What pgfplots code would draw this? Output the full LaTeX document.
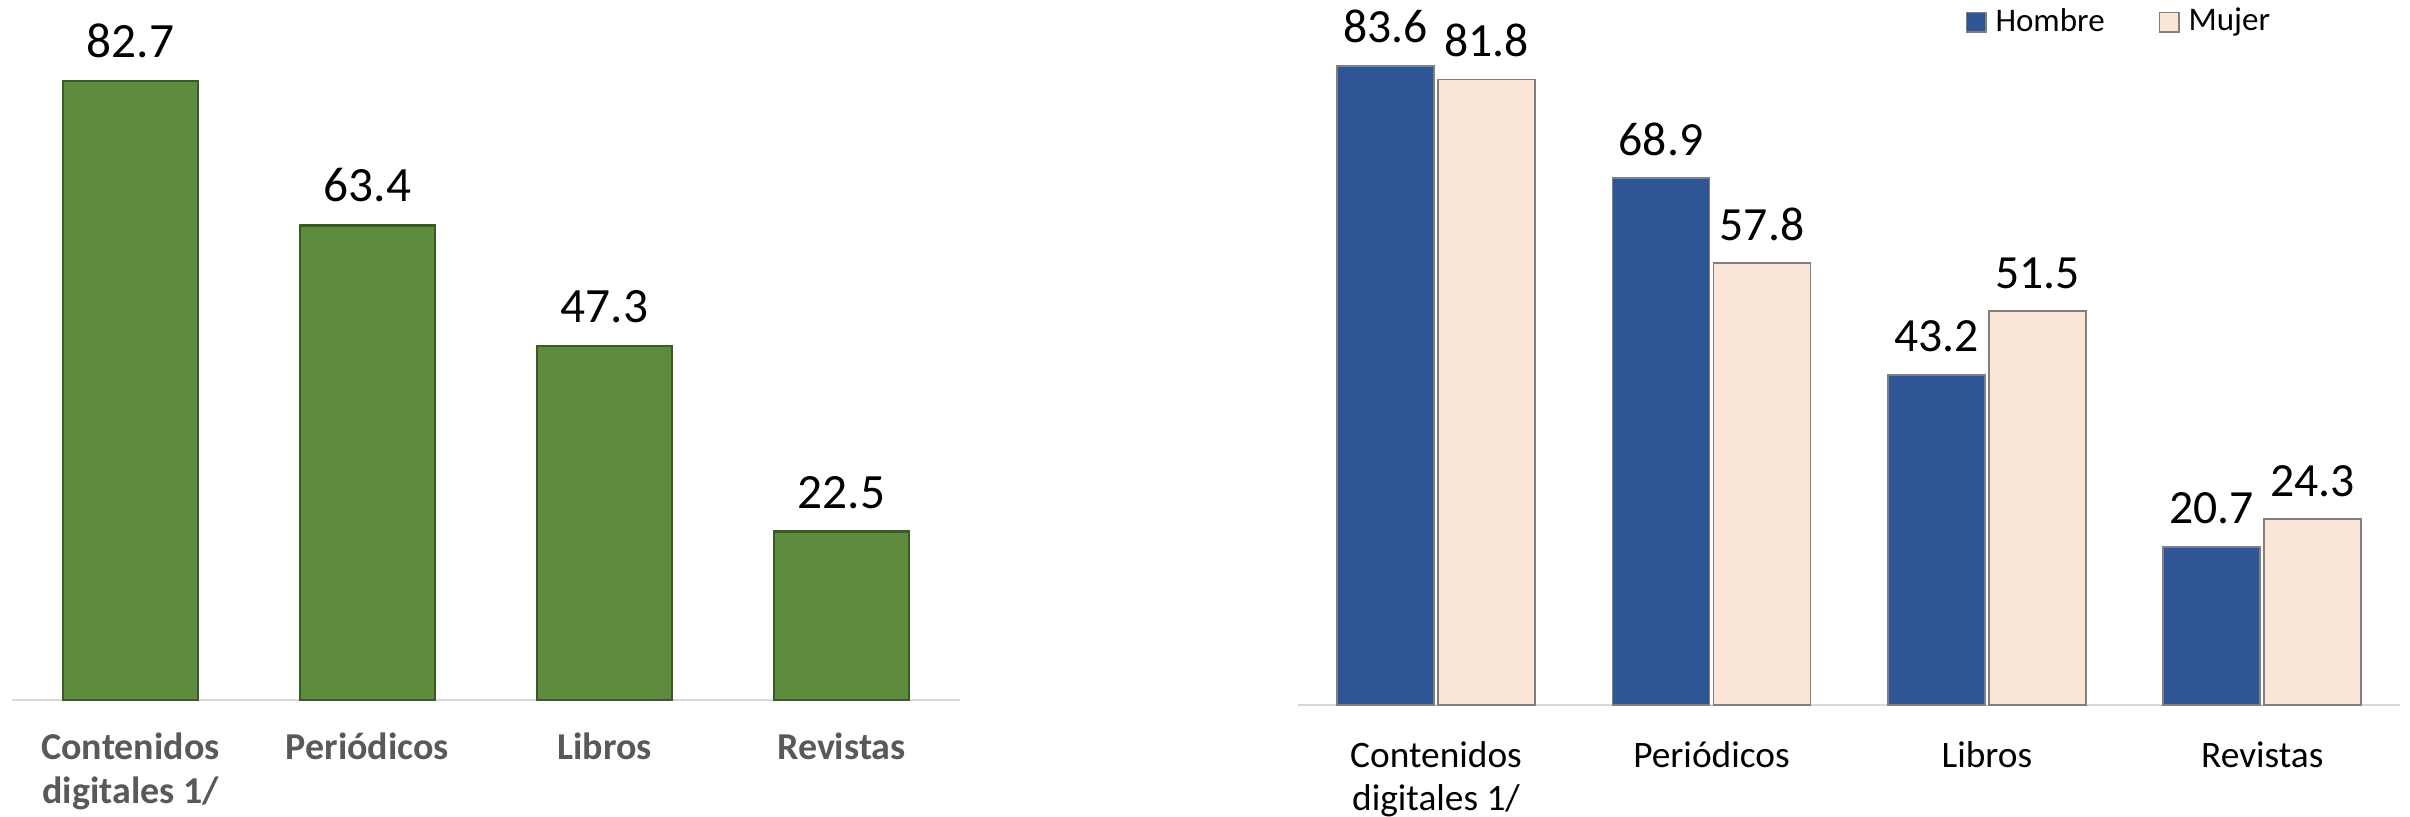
\documentclass[border=0pt]{standalone}
\usepackage{fontspec}
\setmainfont{Carlito}
\usepackage{pgfplots}
\pgfplotsset{compat=1.18}

\definecolor{barGreen}{HTML}{5E8B3D}
\definecolor{greenDark}{HTML}{3C5A26}
\definecolor{hombreBlue}{HTML}{2F5597}
\definecolor{mujerPink}{HTML}{FBE5D6}
\definecolor{barEdge}{HTML}{808080}
\definecolor{baseGray}{HTML}{D9D9D9}
\definecolor{labelGray}{HTML}{595959}

\pgfplotsset{
  twochart/.style={
    scale only axis,
    anchor=south west,
    xmin=-0.5, xmax=3.5, ymin=0,
    axis x line=bottom, axis y line=none,
    x axis line style={-, draw=baseGray, line width=0.6pt},
    xtick={0,1,2,3},
    major tick length=0pt,
    xticklabel style={align=center, anchor=north, inner sep=0pt},
    /pgf/number format/assume math mode=true,
    nodes near coords={\pgfmathprintnumber[fixed,precision=1,fixed zerofill]{\pgfplotspointmeta}},
    every node near coord/.append style={anchor=south, inner sep=0pt, yshift=6.5pt, text=black},
    clip=false,
  },
}

\begin{document}
\begin{tikzpicture}
\path[use as bounding box] (0,0) rectangle (723pt,-244.8pt);

% left: total
\begin{axis}[
  twochart,
  at={(3.6pt,-210pt)},
  width=284.4pt, height=210pt,
  ymax=93.5,
  ybar, bar width=40.5pt,
  xticklabels={{Contenidos\\digitales 1/},Periódicos,Libros,Revistas},
  xticklabel style={font=\fontsize{11.4}{13.4}\selectfont\bfseries, text=labelGray, yshift=-9.5pt},
  every node near coord/.append style={font=\fontsize{14.8}{17}\selectfont},
]
\addplot[fill=barGreen, draw=greenDark, line width=0.8pt]
  coordinates {(0,82.7) (1,63.4) (2,47.3) (3,22.5)};
\end{axis}

% right: by sex
\begin{axis}[
  twochart,
  at={(389.5pt,-211.5pt)},
  width=330.5pt, height=211.5pt,
  ymax=92.2,
  ybar=1.2pt, bar width=29.1pt,
  xticklabels={{Contenidos\\digitales 1/},Periódicos,Libros,Revistas},
  xticklabel style={font=\fontsize{11.2}{13}\selectfont, text=black, yshift=-10.8pt},
  every node near coord/.append style={font=\fontsize{14.3}{17}\selectfont},
  legend style={at={(0.605,0.995)}, anchor=north west, draw=none, fill=none,
    legend columns=2, font=\fontsize{9.9}{12}\selectfont, inner sep=0pt,
    nodes={inner sep=1.2pt},
    /tikz/every odd column/.append style={column sep=1.5pt},
    /tikz/every even column/.append style={column sep=15pt}},
  legend image code/.code={\draw[#1, line width=0.5pt] (0pt,-2.9pt) rectangle (5.8pt,2.9pt);},
]
\addplot[fill=hombreBlue, draw=barEdge, line width=0.5pt]
  coordinates {(0,83.6) (1,68.9) (2,43.2) (3,20.7)};
\addplot[fill=mujerPink, draw=barEdge, line width=0.5pt]
  coordinates {(0,81.8) (1,57.8) (2,51.5) (3,24.3)};
\legend{Hombre, Mujer}
\end{axis}
\end{tikzpicture}
\end{document}
